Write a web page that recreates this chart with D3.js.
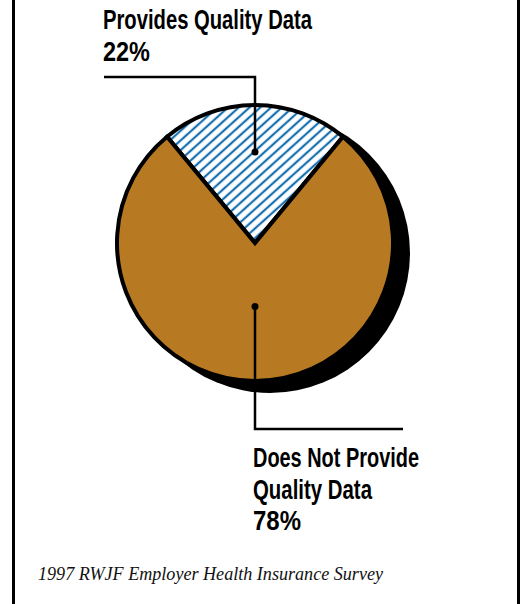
<!DOCTYPE html>
<html>
<head>
<meta charset="utf-8">
<script src="https://cdn.jsdelivr.net/npm/d3@7"></script>
<style>
    html, body { margin: 0; padding: 0; background: #fff; }
    svg { display: block; }
</style>
</head>
<body>
<div id="chart"></div>
<script>
// Chart data
const categories = ["Provides Quality Data", "Does Not Provide Quality Data"];
const values = [22, 78];
const labelLines = [
    ["Provides Quality Data", "22%"],
    ["Does Not Provide", "Quality Data", "78%"]
];
const sourceNote = "1997 RWJF Employer Health Insurance Survey";

function renderPie() {
    const width = 522, height = 604;
    const cx = 255, cy = 243, radius = 138;

    const svg = d3.select("#chart")
        .append("svg")
        .attr("width", width)
        .attr("height", height);

    // hatch pattern for the small slice
    const step = 7.2;
    const defs = svg.append("defs");
    const pattern = defs.append("pattern")
        .attr("id", "hatch")
        .attr("patternUnits", "userSpaceOnUse")
        .attr("width", step)
        .attr("height", step)
        .attr("patternTransform", "rotate(-42)");
    pattern.append("rect").attr("width", step).attr("height", step).attr("fill", "#fff");
    pattern.append("line")
        .attr("x1", 0).attr("y1", step / 2).attr("x2", step).attr("y2", step / 2)
        .attr("stroke", "#1670b0").attr("stroke-width", 2.2);

    // frame (side rules only)
    svg.append("line").attr("x1", 13.5).attr("x2", 13.5).attr("y1", 0).attr("y2", height)
        .attr("stroke", "#000").attr("stroke-width", 3);
    svg.append("line").attr("x1", 518.5).attr("x2", 518.5).attr("y1", 0).attr("y2", height)
        .attr("stroke", "#000").attr("stroke-width", 3);

    const half = values[0] / d3.sum(values) * Math.PI;
    const pie = d3.pie().sort(null)
        .startAngle(-half)
        .endAngle(2 * Math.PI - half);
    const slices = pie(values);

    const arc = d3.arc().innerRadius(0).outerRadius(radius);

    const chart = svg.append("g").attr("transform", `translate(${cx},${cy})`);

    // drop shadow
    chart.append("circle")
        .attr("cx", 15).attr("cy", 10)
        .attr("r", radius + 2)
        .attr("fill", "#000");

    chart.selectAll(".slice")
        .data(slices)
        .enter()
        .append("path")
        .attr("class", "slice")
        .attr("d", arc)
        .attr("fill", (d, i) => i === 0 ? "url(#hatch)" : "#b77a22")
        .attr("stroke", "#000")
        .attr("stroke-width", 4)
        .attr("stroke-linejoin", "miter");

    // leader dots and lines
    const dotRadii = [0.66 * radius, 0.46 * radius];
    const dots = slices.map((s, i) => {
        const a = (s.startAngle + s.endAngle) / 2;
        return [cx + Math.sin(a) * dotRadii[i], cy - Math.cos(a) * dotRadii[i]];
    });

    const leaders = [
        [dots[0], [dots[0][0], 77], [104, 77]],
        [dots[1], [dots[1][0], 429], [403, 429]]
    ];

    svg.selectAll(".leader")
        .data(leaders)
        .enter()
        .append("path")
        .attr("fill", "none")
        .attr("stroke", "#000")
        .attr("stroke-width", 2.5)
        .attr("d", d3.line());

    svg.selectAll(".dot")
        .data(dots)
        .enter()
        .append("circle")
        .attr("cx", d => d[0])
        .attr("cy", d => d[1])
        .attr("r", 3.5)
        .attr("fill", "#000");

    // labels
    const labelPos = [{ x: 103, y: 29, w: [209, 47] }, { x: 253, y: 467, w: [166, 119, 48] }];
    labelLines.forEach((lines, i) => {
        lines.forEach((t, j) => {
            svg.append("text")
                .attr("x", labelPos[i].x)
                .attr("y", labelPos[i].y + j * 31.5)
                .attr("font-family", "'Liberation Sans Narrow', 'Arial Narrow', sans-serif")
                .attr("font-weight", "bold")
                .attr("font-size", 27)
                .attr("textLength", labelPos[i].w[j])
                .attr("lengthAdjust", "spacingAndGlyphs")
                .attr("fill", "#000")
                .text(t);
        });
    });

    svg.append("text")
        .attr("x", 38)
        .attr("y", 580)
        .attr("font-family", "'Liberation Serif', serif")
        .attr("font-style", "italic")
        .attr("font-size", 19)
        .attr("textLength", 345)
        .attr("lengthAdjust", "spacingAndGlyphs")
        .attr("fill", "#111")
        .text(sourceNote);
}

document.addEventListener("DOMContentLoaded", renderPie);
</script>
</body>
</html>
